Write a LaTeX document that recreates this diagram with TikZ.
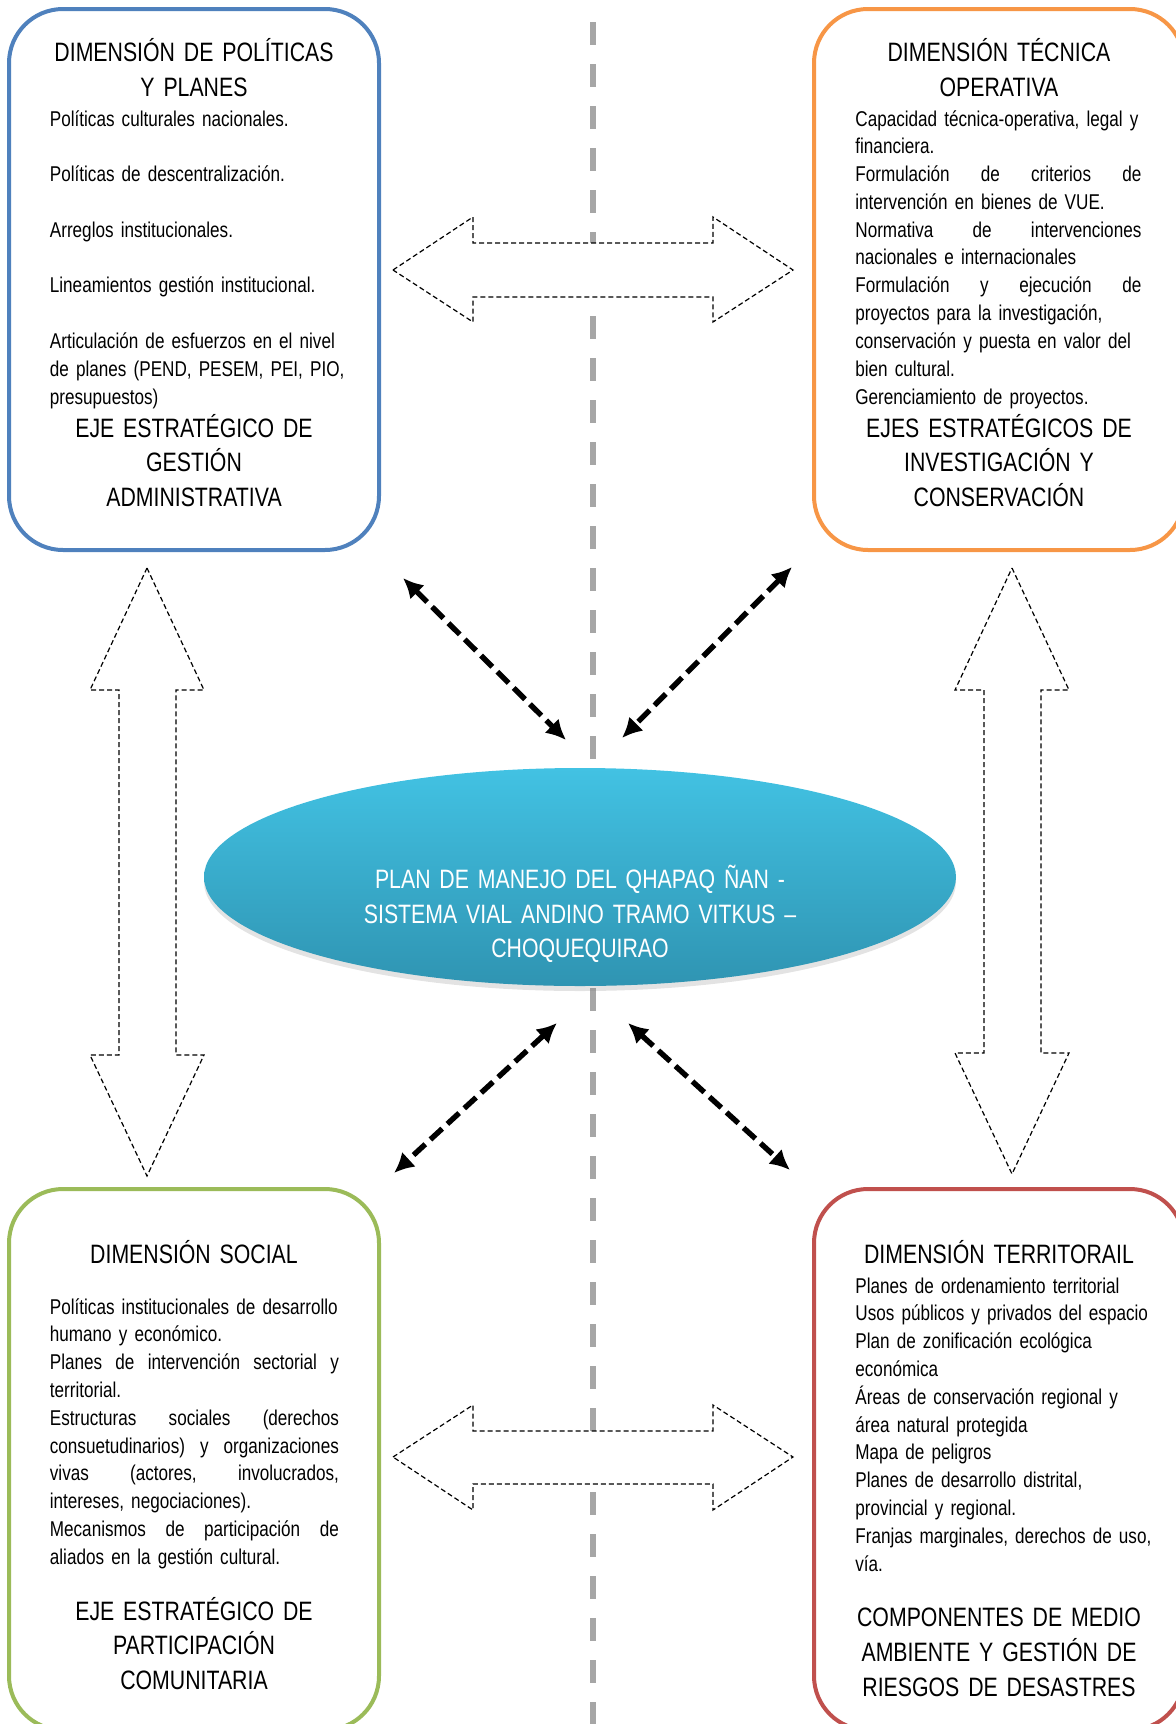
\documentclass[tikz,border=0pt]{standalone}
\usepackage{fontspec}
\setmainfont{Liberation Sans}[FakeStretch=0.80]
\usetikzlibrary{arrows.meta,positioning,shapes.geometric,shadows}
\definecolor{DimBlue}{HTML}{4F81BD}
\definecolor{DimOrange}{HTML}{F79646}
\definecolor{DimGreen}{HTML}{9BBB59}
\definecolor{DimRed}{HTML}{C0504D}
\definecolor{AxisGray}{HTML}{A6A6A6}
\definecolor{PlanTop}{HTML}{42C2E3}
\definecolor{PlanMiddle}{HTML}{39B1D4}
\definecolor{PlanBottom}{HTML}{2F94B2}
\newcommand{\spreadline}[2][143pt]{\leavevmode\hbox to #1{#2}}

\begin{document}
\begin{tikzpicture}[x=0.5pt,y=-0.5pt,
  dimbox/.style={rectangle,rounded corners=27pt,line width=2pt,fill=white,minimum width=185pt,minimum height=270.5pt},
  titletext/.style={anchor=base,inner sep=0pt,text width=180pt,align=center,font=\fontsize{13.3}{17.3}\selectfont},
  bodytext/.style={anchor=base west,inner sep=0pt,text width=170pt,align=left,font=\fontsize{10.7}{13.9}\selectfont},
  plantext/.style={titletext,text width=240pt,text=white},
  blockarrow/.style={draw=black,fill=white,line width=0.6pt,dash pattern=on 2.5pt off 1.5pt,line join=miter},
  linkarrow/.style={{Latex[length=10pt,width=10pt]}-{Latex[length=10pt,width=10pt]},line width=2.7pt,dash pattern=on 8pt off 3.5pt},
  axis/.style={draw=AxisGray,line width=3pt,dash pattern=on 11.5pt off 9.5pt}
]
\clip (0,0) rectangle (1176,1724);

% central axis
\coordinate (axistop) at (593,22);
\coordinate (axisbottom) at (593,1730);
\draw[axis] (axistop) -- (axisbottom);

% dimension boxes
\node[dimbox,draw=DimBlue] (politicas) at (194,279.5) {};
\node[dimbox,draw=DimOrange] (tecnica) at (999,279.5) {};
\node[dimbox,draw=DimGreen] (social) at (194,1459.5) {};
\node[dimbox,draw=DimRed] (territorial) at (999,1459.5) {};

% block arrows between the boxes
\draw[blockarrow] (393,270) -- (473,217) -- (473,243) -- (713,243) -- (713,217) -- (793,270)
  -- (713,322) -- (713,297) -- (473,297) -- (473,322) -- cycle;
\draw[blockarrow] (393,1457) -- (473,1405) -- (473,1431) -- (713,1431) -- (713,1405) -- (793,1457)
  -- (713,1510) -- (713,1484) -- (473,1484) -- (473,1510) -- cycle;
\draw[blockarrow] (147,568) -- (204,690) -- (176,690) -- (176,1055) -- (204,1055) -- (147,1176)
  -- (90,1055) -- (119,1055) -- (119,690) -- (90,690) -- cycle;
\draw[blockarrow] (1012,568) -- (1069,690) -- (1041,690) -- (1041,1053) -- (1069,1053) -- (1012,1174)
  -- (955,1053) -- (984,1053) -- (984,690) -- (955,690) -- cycle;

% central plan
\node[ellipse,minimum width=376pt,minimum height=109pt,inner sep=0pt,
  top color=PlanTop,middle color=PlanMiddle,bottom color=PlanBottom,
  drop shadow={opacity=0.22,shadow xshift=0pt,shadow yshift=-2.5pt}] (plan) at (580,877) {};
\node[plantext] (plantitle) at (580,888.5) {PLAN DE MANEJO DEL QHAPAQ ÑAN -\\SISTEMA VIAL ANDINO TRAMO VITKUS --\\CHOQUEQUIRAO};

% links to the plan
\coordinate (ul-out) at (403,578);
\coordinate (ul-in) at (566,740);
\coordinate (ur-out) at (792,567);
\coordinate (ur-in) at (622,738);
\coordinate (ll-in) at (557,1023);
\coordinate (ll-out) at (394,1173);
\coordinate (lr-in) at (628,1023);
\coordinate (lr-out) at (790,1170);
\draw[linkarrow] (ul-out) -- (ul-in);
\draw[linkarrow] (ur-out) -- (ur-in);
\draw[linkarrow] (ll-in) -- (ll-out);
\draw[linkarrow] (lr-in) -- (lr-out);

% texts of the boxes
\node[titletext] (politicas-title) at (194,61.5) {DIMENSIÓN DE POLÍTICAS\\Y PLANES};
\node[bodytext] (politicas-body) at (49.5,126) {Políticas culturales nacionales.\\[13.9pt]
  Políticas de descentralización.\\[13.9pt]
  Arreglos institucionales.\\[13.9pt]
  Lineamientos gestión institucional.\\[13.9pt]
  Articulación de esfuerzos en el nivel\\
  de planes (PEND, PESEM, PEI, PIO,\\
  presupuestos)};
\node[titletext] (politicas-eje) at (194,437) {EJE ESTRATÉGICO DE\\GESTIÓN\\ADMINISTRATIVA};

\node[titletext] (tecnica-title) at (999,61.5) {DIMENSIÓN TÉCNICA\\OPERATIVA};
\node[bodytext] (tecnica-body) at (855,126) {Capacidad técnica-operativa, legal y\\
  financiera.\\
  \spreadline{Formulación\hfill de\hfill criterios\hfill de}\\
  intervención en bienes de VUE.\\
  \spreadline{Normativa\hfill de\hfill intervenciones}\\
  nacionales e internacionales\\
  \spreadline{Formulación\hfill y\hfill ejecución\hfill de}\\
  proyectos para la investigación,\\
  conservación y puesta en valor del\\
  bien cultural.\\
  Gerenciamiento de proyectos.};
\node[titletext] (tecnica-eje) at (999,437) {EJES ESTRATÉGICOS DE\\INVESTIGACIÓN Y\\CONSERVACIÓN};

\node[titletext] (social-title) at (194,1263.5) {DIMENSIÓN SOCIAL};
\node[bodytext] (social-body) at (49.5,1314) {Políticas institucionales de desarrollo\\
  humano y económico.\\
  \spreadline[144.5pt]{Planes\hfill de\hfill intervención\hfill sectorial\hfill y}\\
  territorial.\\
  \spreadline[144.5pt]{Estructuras\hfill sociales\hfill (derechos}\\
  \spreadline[144.5pt]{consuetudinarios)\hfill y\hfill organizaciones}\\
  \spreadline[144.5pt]{vivas\hfill (actores,\hfill involucrados,}\\
  intereses, negociaciones).\\
  \spreadline[144.5pt]{Mecanismos\hfill de\hfill participación\hfill de}\\
  aliados en la gestión cultural.};
\node[titletext] (social-eje) at (194,1620) {EJE ESTRATÉGICO DE\\PARTICIPACIÓN\\COMUNITARIA};

\node[titletext] (territorial-title) at (999,1263.5) {DIMENSIÓN TERRITORAIL};
\node[bodytext] (territorial-body) at (855,1293) {Planes de ordenamiento territorial\\
  Usos públicos y privados del espacio\\
  Plan de zonificación ecológica\\
  económica\\
  Áreas de conservación regional y\\
  área natural protegida\\
  Mapa de peligros\\
  Planes de desarrollo distrital,\\
  provincial y regional.\\
  Franjas marginales, derechos de uso,\\
  vía.};
\node[titletext,font=\fontsize{13.3}{17.5}\selectfont] (territorial-eje) at (999,1626) {COMPONENTES DE MEDIO\\AMBIENTE Y GESTIÓN DE\\RIESGOS DE DESASTRES};
\end{tikzpicture}
\end{document}
